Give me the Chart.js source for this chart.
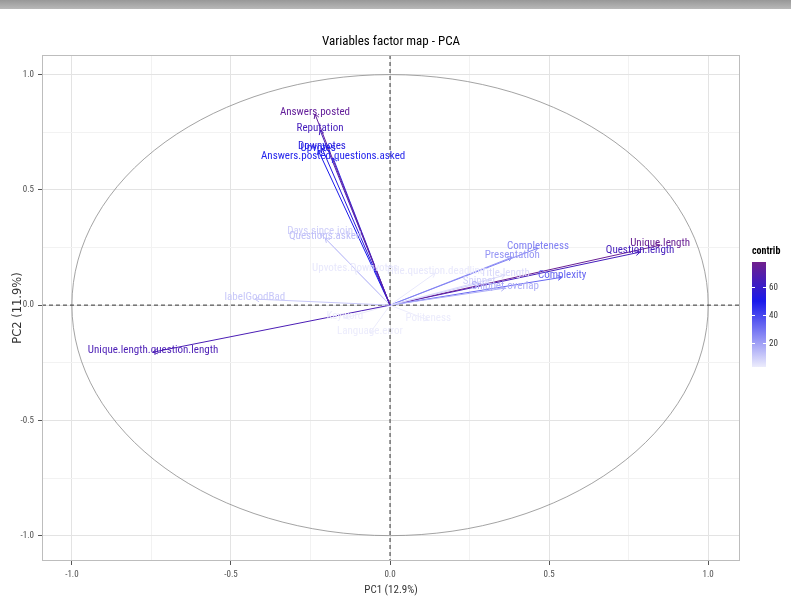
<!DOCTYPE html>
<html>
<head>
<meta charset="utf-8">
<title>Variables factor map - PCA</title>
<script src="https://cdn.jsdelivr.net/npm/chart.js@4.4.0/dist/chart.umd.min.js"></script>
<style>
  html, body { margin: 0; padding: 0; background: #fff; }
  #wrap { position: relative; width: 791px; height: 606px; overflow: hidden; }
  #topbar { position: absolute; left: 0; top: 0; width: 791px; height: 9px; background: linear-gradient(#989898, #b8b8b8); }
  canvas { position: absolute; left: 0; top: 0; }
</style>
</head>
<body>
<div id="wrap">
  <canvas id="pcaChart" width="791" height="606"></canvas>
  <div id="topbar"></div>
</div>
<script>
// variables, coordinates on PC1 / PC2 and their contribution
const varNames = [
  "Answers.posted", "Reputation", "Downvotes", "Upvotes", "Answers.posted.questions.asked",
  "Days.since.join", "Questions.asked", "Upvotes.Downvotes", "labelGoodBad",
  "Unique.length.question.length", "Keyword", "Language.error", "Politeness",
  "Title.question.deadline", "Title.length", "Snippet", "Snippet.overlap",
  "Completeness", "Presentation", "Complexity", "Unique.length", "Question.length"
];
const pc1 = [
  -0.236, -0.220, -0.214, -0.226, -0.179,
  -0.220, -0.204, -0.110, -0.425,
  -0.745, -0.142, -0.063, 0.120,
  0.142, 0.362, 0.280, 0.362,
  0.465, 0.384, 0.541, 0.849, 0.786
];
const pc2 = [
  0.829, 0.759, 0.681, 0.672, 0.638,
  0.312, 0.291, 0.152, 0.026,
  -0.204, -0.056, -0.121, -0.065,
  0.139, 0.130, 0.095, 0.074,
  0.247, 0.208, 0.121, 0.260, 0.230
];
const contrib = [
  74, 64, 54, 50, 47,
  10, 13, 4, 11,
  66, 3, 3, 3,
  4, 7, 9, 17,
  27, 22, 33, 76, 64
];
const legendTicks = [20, 40, 60];
const legendMin = 3, legendMax = 78;

const narrow = "'Liberation Sans Narrow', 'Arial Narrow', 'Roboto Condensed', sans-serif";

// white -> blue -> purple gradient for contrib
const contribStops = [[legendMin, [236, 236, 252]], [50, [25, 25, 235]], [legendMax, [112, 32, 140]]];
function contribColor(v) {
  for (let i = 0; i < contribStops.length - 1; i++) {
    const [v0, c0] = contribStops[i], [v1, c1] = contribStops[i + 1];
    if (v <= v1 || i === contribStops.length - 2) {
      const t = Math.max(0, Math.min(1, (v - v0) / (v1 - v0)));
      const c = c0.map((a, k) => Math.round(a + (c1[k] - a) * t));
      return `rgb(${c[0]},${c[1]},${c[2]})`;
    }
  }
}

const isMajor = v => Math.abs(v * 2 - Math.round(v * 2)) < 1e-6;

const pcaDecor = {
  id: "pcaDecor",
  beforeDatasetsDraw(chart) {
    const { ctx, chartArea: a, scales: { x, y } } = chart;
    const cx = x.getPixelForValue(0), cy = y.getPixelForValue(0);
    const rx = x.getPixelForValue(1) - cx, ry = cy - y.getPixelForValue(1);
    ctx.save();
    ctx.beginPath();
    ctx.ellipse(cx, cy, rx, ry, 0, 0, Math.PI * 2);
    ctx.strokeStyle = "#8c8c8c";
    ctx.lineWidth = 0.8;
    ctx.stroke();
    ctx.setLineDash([4, 3]);
    ctx.strokeStyle = "#333";
    ctx.lineWidth = 1;
    ctx.beginPath();
    ctx.moveTo(a.left, cy); ctx.lineTo(a.right, cy);
    ctx.moveTo(cx, a.top); ctx.lineTo(cx, a.bottom);
    ctx.stroke();
    ctx.restore();
  },
  afterDatasetsDraw(chart) {
    const { ctx, scales: { x, y } } = chart;
    const x0 = x.getPixelForValue(0), y0 = y.getPixelForValue(0);
    ctx.save();
    // arrow heads
    varNames.forEach((name, i) => {
      const px = x.getPixelForValue(pc1[i]), py = y.getPixelForValue(pc2[i]);
      const ang = Math.atan2(py - y0, px - x0);
      ctx.strokeStyle = contribColor(contrib[i]);
      ctx.lineWidth = 1;
      ctx.beginPath();
      ctx.moveTo(px - 5 * Math.cos(ang - Math.PI / 6), py - 5 * Math.sin(ang - Math.PI / 6));
      ctx.lineTo(px, py);
      ctx.lineTo(px - 5 * Math.cos(ang + Math.PI / 6), py - 5 * Math.sin(ang + Math.PI / 6));
      ctx.stroke();
    });
    // labels
    ctx.font = "11px " + narrow;
    ctx.textAlign = "center";
    ctx.textBaseline = "middle";
    varNames.forEach((name, i) => {
      const px = x.getPixelForValue(pc1[i]), py = y.getPixelForValue(pc2[i]);
      ctx.fillStyle = contribColor(contrib[i]);
      ctx.fillText(name, px, py - 2);
    });
    ctx.restore();
  },
  afterDraw(chart) {
    const { ctx, chartArea: a } = chart;
    ctx.save();
    ctx.strokeStyle = "#bdbdbd";
    ctx.lineWidth = 1;
    ctx.strokeRect(a.left + 0.5, a.top + 0.5, a.right - a.left - 1, a.bottom - a.top - 1);

    // contrib colour bar
    const bx = a.right + 12, bw = 14, bTop = 262, bBot = 367;
    const toPx = v => bBot - (v - legendMin) / (legendMax - legendMin) * (bBot - bTop);
    const g = ctx.createLinearGradient(0, bBot, 0, bTop);
    contribStops.forEach(([v]) => g.addColorStop((v - legendMin) / (legendMax - legendMin), contribColor(v)));
    ctx.fillStyle = g;
    ctx.fillRect(bx, bTop, bw, bBot - bTop);
    ctx.fillStyle = "#000";
    ctx.font = "bold 10px " + narrow;
    ctx.textAlign = "left";
    ctx.textBaseline = "middle";
    ctx.fillText("contrib", bx, bTop - 11);
    ctx.font = "9px " + narrow;
    ctx.fillStyle = "#333";
    legendTicks.forEach(t => {
      const ty = Math.round(toPx(t)) + 0.5;
      ctx.strokeStyle = "#fff";
      ctx.beginPath();
      ctx.moveTo(bx, ty); ctx.lineTo(bx + 3, ty);
      ctx.moveTo(bx + bw - 3, ty); ctx.lineTo(bx + bw, ty);
      ctx.stroke();
      ctx.fillText(String(t), bx + bw + 3, ty);
    });
    ctx.restore();
  }
};

const axisTicks = {
  stepSize: 0.25,
  includeBounds: false,
  color: "#4d4d4d",
  font: { size: 9, family: narrow },
  padding: 4,
  callback: v => (isMajor(v) ? v.toFixed(1) : "")
};
const axisGrid = {
  color: ctx => (isMajor(ctx.tick.value) ? "#e3e3e3" : "#f2f2f2"),
  tickColor: ctx => (isMajor(ctx.tick.value) ? "#555" : "rgba(0,0,0,0)"),
  tickLength: 4,
  lineWidth: 1
};

const datasets = varNames.map((name, i) => ({
  label: name,
  data: [{ x: 0, y: 0 }, { x: pc1[i], y: pc2[i] }],
  borderColor: contribColor(contrib[i]),
  backgroundColor: contribColor(contrib[i]),
  borderWidth: 1,
  pointRadius: 0,
  showLine: true,
  fill: false
}));

new Chart(document.getElementById("pcaChart").getContext("2d"), {
  type: "scatter",
  data: { datasets },
  options: {
    responsive: false,
    animation: false,
    layout: { padding: { top: 0, right: 51, bottom: 0, left: 0 } },
    plugins: {
      legend: { display: false },
      tooltip: { enabled: false },
      title: {
        display: true,
        text: "Variables factor map - PCA",
        fullSize: false,
        color: "#000",
        font: { size: 13, weight: "normal", family: narrow },
        padding: { top: 34, bottom: 5.4 }
      }
    },
    scales: {
      x: {
        type: "linear",
        min: -1.094,
        max: 1.10,
        ticks: axisTicks,
        grid: axisGrid,
        border: { display: false },
        title: { display: true, text: "PC1 (12.9%)", color: "#333", font: { size: 11, family: narrow }, padding: { top: 0, bottom: 9 } },
        afterFit: s => { s.height = 45; }
      },
      y: {
        type: "linear",
        min: -1.11,
        max: 1.085,
        ticks: axisTicks,
        grid: axisGrid,
        border: { display: false },
        title: { display: true, text: "PC2 (11.9%)", color: "#333", font: { size: 11.5, family: "'DejaVu Sans', sans-serif" }, padding: { top: 11, bottom: 0 } },
        afterFit: s => { s.width = 42; }
      }
    }
  },
  plugins: [pcaDecor]
});
</script>
</body>
</html>
